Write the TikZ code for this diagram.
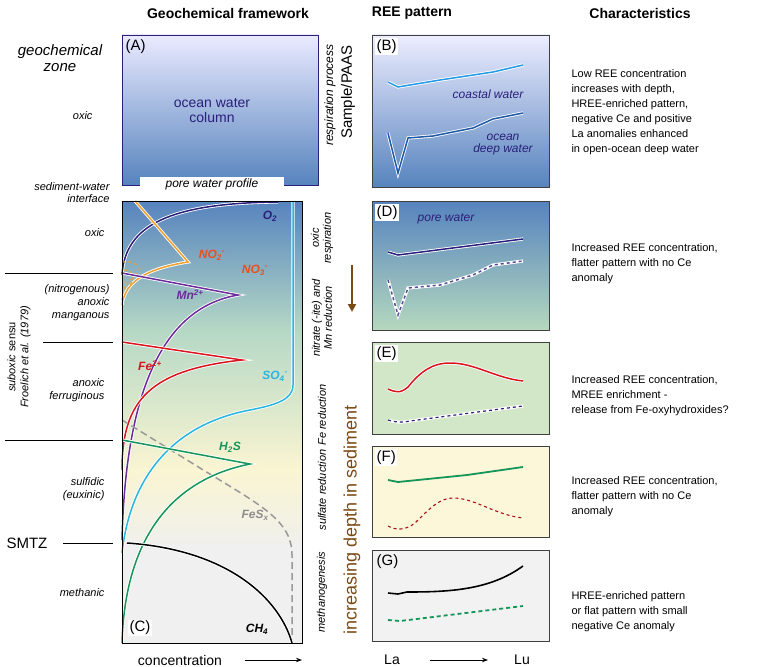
\documentclass[tikz,border=0pt]{standalone}
\usepackage{fontspec}
\setmainfont{Liberation Sans}
\usetikzlibrary{arrows.meta}
\definecolor{navy}{HTML}{2A1F7A}
\definecolor{orng}{HTML}{F0A030}
\definecolor{nred}{HTML}{E8501E}
\definecolor{purp}{HTML}{6A2C9A}
\definecolor{fered}{HTML}{D8141E}
\definecolor{cyn}{HTML}{2AB4E0}
\definecolor{grn}{HTML}{14965A}
\definecolor{brn}{HTML}{7A4A14}
\definecolor{dblue}{HTML}{1E5AA8}
\definecolor{cgreen}{RGB}{181,216,197}
\definecolor{cyell}{RGB}{250,245,210}
\definecolor{cgray}{RGB}{240,240,236}
\definecolor{dgreen}{RGB}{181,216,190}
\definecolor{egreen}{RGB}{210,230,200}
\definecolor{fyell}{RGB}{253,247,218}
\tikzset{
 halo/.style={preaction={draw=white,line width=3.2pt},line width=1.5pt},
 lab/.style={font=\fontsize{11}{13}\selectfont\itshape,align=right,anchor=east},
 rot/.style={font=\fontsize{11}{12}\selectfont\itshape,rotate=90,align=center},
 chr/.style={font=\fontsize{11}{15}\selectfont,align=left,anchor=north west},
 tag/.style={fill=white,inner sep=1.5pt,font=\fontsize{15}{15}\selectfont,anchor=north west},
 hdr/.style={font=\fontsize{14}{14}\selectfont\bfseries},
 panel/.style={draw=black!75,line width=0.8pt},
 clab/.style={font=\fontsize{12}{12}\selectfont\bfseries\itshape}
}
\begin{document}
\begin{tikzpicture}[x=1pt,y=-1pt]
\useasboundingbox (0,0) rectangle (762,666);
% headers
\node[hdr] (h1) at (228,13) {Geochemical framework};
\node[hdr] (h2) at (412,13) {REE pattern};
\node[hdr] (h3) at (640,13) {Characteristics};
% panel A
\shade[top color=blue!8!white,bottom color=dblue!75!white] (122,35) rectangle (318,185);
\draw[draw=navy,line width=0.8pt] (122,35) rectangle (318,185);
\node[fill=white,minimum width=144pt,minimum height=15pt,inner sep=0pt,font=\fontsize{12}{12}\selectfont\itshape] (pw) at (212,184) {pore water profile};
\node[tag,fill=none] (tA) at (124,38) {(A)};
\node[font=\fontsize{14}{15}\selectfont,text=navy,align=center] (ow) at (212,111) {ocean water\\column};
% panel C background
\shade[top color=dblue!75!white,bottom color=cgreen] (122,201) rectangle (302,330);
\shade[top color=cgreen,bottom color=cyell] (122,330) rectangle (302,470);
\shade[top color=cyell,bottom color=cgray] (122,470) rectangle (302,545);
\fill[black!6] (122,545) rectangle (302,643);
% curves in C
\draw[halo,navy] (278,202) .. controls (170,203) and (125,225) .. (122,275);
\draw[halo,orng] (135,201) -- (188,262) .. controls (150,268) and (125,280) .. (122,305);
\draw[orng,line width=1.2pt,dashed] (122,262) .. controls (142,260) and (142,272) .. (128,282) .. controls (124,287) and (122,292) .. (122,300);
\draw[orng,line width=1.2pt,dashed] (124,270) .. controls (134,270) and (136,278) .. (127,290);
\draw[halo,purp] (122,273) -- (238,295) .. controls (150,310) and (125,420) .. (122,540);
\draw[halo,fered] (122,342) -- (242,360) .. controls (150,370) and (122,400) .. (122,470);
\draw[halo,cyn] (293,201) -- (293,385) .. controls (293,400) and (275,405) .. (250,410) .. controls (170,425) and (130,480) .. (122,553);
\draw[black!40,line width=1.5pt,dash pattern=on 7pt off 4pt] (122,420) -- (200,468) .. controls (260,505) and (292,520) .. (292,555) -- (292,643);
\draw[halo,grn] (122,440) -- (250,464) .. controls (170,480) and (125,540) .. (122,643);
\draw[halo,black] (127,543) .. controls (230,550) and (280,600) .. (292,643);
\draw[line width=1pt] (122,201) rectangle (302,643);
% curve labels
\node[clab,text=navy] (lo2) at (270,216) {O\textsubscript{2}};
\node[clab,text=nred] (lno2) at (212,255) {NO\textsubscript{2}\textsuperscript{-}};
\node[clab,text=nred] (lno3) at (255,270) {NO\textsubscript{3}\textsuperscript{-}};
\node[clab,text=purp] (lmn) at (190,295) {Mn\textsuperscript{2+}};
\node[clab,text=fered] (lfe) at (150,366) {Fe\textsuperscript{2+}};
\node[clab,text=cyn] (lso) at (275,376) {SO\textsubscript{4}\textsuperscript{-}};
\node[clab,text=grn] (lh2s) at (230,447) {H\textsubscript{2}S};
\node[clab,text=black!45] (lfes) at (255,515) {FeS\textsubscript{x}};
\node[clab,text=black] (lch4) at (257,629) {CH\textsubscript{4}};
\node[tag,anchor=center] (tC) at (140,628) {(C)};
\node[font=\fontsize{14}{14}\selectfont] (conc) at (180,660) {concentration};
\coordinate (ca1) at (245,660); \coordinate (ca2) at (302,660);
\draw[-{Stealth[length=6pt]},line width=0.9pt] (ca1) -- (ca2);
% left zone labels
\node[font=\fontsize{15}{16}\selectfont\itshape,align=center] (gz) at (60,58) {geochemical\\zone};
\node[lab] (z1) at (96,116) {oxic};
\node[lab,font=\fontsize{11}{12}\selectfont\itshape] (z2) at (113,193) {sediment-water\\interface};
\node[lab] (z3) at (108,233) {oxic};
\node[lab] (z4) at (113,303) {(nitrogenous)\\anoxic\\manganous};
\node[lab] (z5) at (108,390) {anoxic\\ferruginous};
\node[lab] (z6) at (108,489) {sulfidic\\(euxinic)};
\node[font=\fontsize{15}{15}\selectfont,anchor=west] (smtz) at (3,543) {SMTZ};
\node[lab] (z7) at (108,593) {methanic};
\node[rot,font=\fontsize{11}{13}\selectfont] (sub) at (19,357) {\textit{suboxic} sensu\\\textit{Froelich et al. (1979)}};
\coordinate (l1a) at (5,273); \coordinate (l1b) at (113,273);
\coordinate (l2a) at (43,342); \coordinate (l2b) at (113,342);
\coordinate (l3a) at (5,440); \coordinate (l3b) at (113,440);
\coordinate (l4a) at (63,543); \coordinate (l4b) at (113,543);
\draw[line width=0.6pt] (l1a)--(l1b) (l2a)--(l2b) (l3a)--(l3b) (l4a)--(l4b);
% process labels
\node[rot,font=\fontsize{12}{13}\selectfont\itshape] (rp) at (330,95) {respiration process};
\node[rot] (p1) at (322,238) {oxic\\respiration};
\node[rot] (p2) at (322,318) {nitrate (-ite) and\\Mn reduction};
\node[rot] (p3) at (322,415) {Fe reduction};
\node[rot] (p4) at (322,490) {sulfate reduction};
\node[rot] (p5) at (322,592) {methanogenesis};
\node[rotate=90,font=\fontsize{15}{15}\selectfont] (sp) at (348,92) {Sample/PAAS};
\node[rotate=90,font=\fontsize{18}{18}\selectfont,text=brn] (idep) at (352,520) {increasing depth in sediment};
\coordinate (ba1) at (352,265); \coordinate (ba2) at (352,312);
\draw[-{Triangle[length=8pt,width=8pt]},line width=2.2pt,brn] (ba1) -- (ba2);
% panel B
\shade[top color=blue!7!white,bottom color=dblue!75!white] (372,35) rectangle (549,187);
\draw[panel] (372,35) rectangle (549,187);
\node[tag] (tB) at (375,38) {(B)};
\draw[halo,cyn!85!blue] (388,82) -- (398,87) -- (440,80) -- (493,72) -- (523,65);
\draw[halo,dblue] (388,133) -- (398,173) -- (408,138) -- (433,136) -- (473,128) -- (493,119) -- (523,113);
\node[font=\fontsize{12}{12}\selectfont\itshape,text=navy] (cw) at (488,94) {coastal water};
\node[font=\fontsize{12}{12}\selectfont\itshape,text=navy,align=center] (odw) at (503,145) {ocean\\deep water};
% panel D
\shade[top color=dblue!75!white,bottom color=dgreen] (372,201) rectangle (549,330);
\draw[panel] (372,201) rectangle (549,330);
\node[tag] (tD) at (375,204) {(D)};
\node[font=\fontsize{12}{12}\selectfont\itshape,text=navy] (pwl) at (446,219) {pore water};
\draw[halo,navy] (388,252) -- (398,255) -- (523,239);
\draw[white,line width=3.2pt] (388,280) -- (398,315) -- (408,288) -- (440,285) -- (473,275) -- (493,265) -- (523,261);
\draw[navy!80,line width=1.5pt,dashed] (388,280) -- (398,315) -- (408,288) -- (440,285) -- (473,275) -- (493,265) -- (523,261);
% panel E
\fill[egreen] (372,342) rectangle (549,434);
\draw[panel] (372,342) rectangle (549,434);
\node[tag] (tE) at (375,345) {(E)};
\draw[halo,fered] (388,389) .. controls (395,392) and (400,394) .. (408,387) .. controls (420,372) and (432,363) .. (450,363) .. controls (475,363) and (495,378) .. (523,381);
\draw[white,line width=3pt] (388,420) .. controls (395,422) and (400,423) .. (410,421) -- (523,406);
\draw[navy,line width=1.2pt,dashed] (388,420) .. controls (395,422) and (400,423) .. (410,421) -- (523,406);
% panel F
\fill[fyell] (372,446) rectangle (549,537);
\draw[panel] (372,446) rectangle (549,537);
\node[tag] (tF) at (375,449) {(F)};
\draw[grn,line width=1.8pt] (388,480) -- (398,482) -- (467,475) -- (523,467);
\draw[fered!80!black,line width=1.1pt,dashed] (388,526) .. controls (395,530) and (405,531) .. (415,523) .. controls (430,508) and (440,498) .. (453,498) .. controls (475,498) and (495,515) .. (523,518);
% panel G
\fill[black!5] (372,550) rectangle (549,641);
\draw[panel] (372,550) rectangle (549,641);
\node[tag,fill=none] (tG) at (375,553) {(G)};
\draw[black,line width=1.6pt] (388,593) -- (398,594) -- (407,592) .. controls (450,592) and (490,590) .. (523,566);
\draw[grn,line width=1.8pt,dash pattern=on 4pt off 3pt] (388,620) -- (400,621) -- (523,606);
\node[font=\fontsize{14}{14}\selectfont] (la) at (392,660) {La};
\node[font=\fontsize{14}{14}\selectfont] (lu) at (522,660) {Lu};
\coordinate (lx1) at (430,660); \coordinate (lx2) at (488,660);
\draw[-{Stealth[length=6pt]},line width=0.9pt] (lx1) -- (lx2);
% characteristics
\node[chr] (c1) at (568,66) {Low REE concentration\\increases with depth,\\HREE-enriched pattern,\\negative Ce and positive\\La anomalies enhanced\\in open-ocean deep water};
\node[chr] (c2) at (568,240) {Increased REE concentration,\\flatter pattern with no Ce\\anomaly};
\node[chr] (c3) at (568,372) {Increased REE concentration,\\MREE enrichment -\\release from Fe-oxyhydroxides?};
\node[chr] (c4) at (568,473) {Increased REE concentration,\\flatter pattern with no Ce\\anomaly};
\node[chr] (c5) at (568,588) {HREE-enriched pattern\\or flat pattern with small\\negative Ce anomaly};
\end{tikzpicture}
\end{document}
